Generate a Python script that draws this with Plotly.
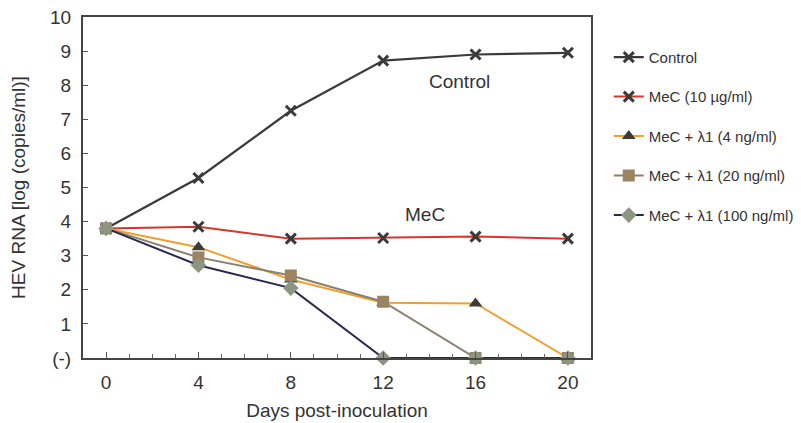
import plotly.graph_objects as go

days = [0, 4, 8, 12, 16, 20]
control = [3.8, 5.28, 7.25, 8.72, 8.9, 8.95]
mec = [3.8, 3.85, 3.5, 3.52, 3.56, 3.5]
mec_l4 = [3.8, 3.25, 2.3, 1.62, 1.6, 0.0]
mec_l20 = [3.8, 2.95, 2.42, 1.65, 0.0, 0.0]
mec_l100 = [3.8, 2.72, 2.05, 0.0, 0.0, 0.0]

y_ticks = [0, 1, 2, 3, 4, 5, 6, 7, 8, 9, 10]
y_labels = ["(-)", "1", "2", "3", "4", "5", "6", "7", "8", "9", "10"]
x_ticks = [0, 4, 8, 12, 16, 20]

series = [
    ("Control", control, "#3a3a3a", "#3a3a3a", "x-thin", 2.2),
    ("MeC (10 µg/ml)", mec, "#d8352a", "#3a3a3a", "x-thin", 2.0),
    ("MeC + λ1 (4 ng/ml)", mec_l4, "#f0a030", "#3d3d38", "triangle-up", 2.0),
    ("MeC + λ1 (20 ng/ml)", mec_l20, "#8a8070", "#9a8462", "square", 2.0),
    ("MeC + λ1 (100 ng/ml)", mec_l100, "#2a2850", "#8c9482", "diamond", 2.0),
]

fig = go.Figure()
for i, (name, vals, lc, mc, sym, lw) in enumerate(series):
    if sym == "x-thin":
        marker = dict(symbol=sym, size=10, line=dict(color=mc, width=3), color=mc)
    else:
        marker = dict(symbol=sym, size=12, color=mc, line=dict(width=0))
    fig.add_trace(go.Scatter(
        x=days, y=vals, name=name, mode="lines+markers",
        line=dict(color=lc, width=lw), marker=marker,
        legendgroup=str(i), cliponaxis=False,
    ))

fig.add_annotation(x=15.3, y=8.1, text="Control", showarrow=False,
                   font=dict(size=19, color="#333333", family="Liberation Sans, Arial"))
fig.add_annotation(x=13.8, y=4.2, text="MeC", showarrow=False,
                   font=dict(size=19, color="#333333", family="Liberation Sans, Arial"))

fig.update_layout(
    width=793, height=415,
    margin=dict(l=75, r=210, t=9, b=65, autoexpand=False),
    paper_bgcolor="#ffffff", plot_bgcolor="#ffffff",
    font=dict(family="Liberation Sans, Arial", color="#333333"),
    legend=dict(x=1.035, y=0.93, xanchor="left", yanchor="top",
                font=dict(size=15, color="#333333"),
                tracegroupgap=17, bgcolor="rgba(0,0,0,0)", itemwidth=30),
    xaxis=dict(range=[-1, 21], tickvals=x_ticks, ticks="inside", ticklen=6,
               tickcolor="#555", showline=True, linecolor="#444", linewidth=2,
               mirror=True, showgrid=False, zeroline=False, automargin=False,
               tickfont=dict(size=19, color="#333"), ticklabelstandoff=6,
               ticklabeloverflow="allow",
               minor=dict(dtick=1, ticks="inside", ticklen=4, tickcolor="#666"),
               title=dict(text="Days post-inoculation", font=dict(size=19, color="#333"), standoff=12)),
    yaxis=dict(range=[0, 10], tickvals=y_ticks, ticktext=y_labels, ticks="inside",
               ticklen=5, tickcolor="#555", showline=True, linecolor="#444",
               linewidth=2, mirror=True, showgrid=False, zeroline=False, automargin=False,
               tickfont=dict(size=19, color="#333"), ticklabelstandoff=6,
               ticklabeloverflow="allow",
               title=dict(text="HEV RNA [log (copies/ml)]", font=dict(size=19, color="#333"), standoff=21)),
)

fig.write_html("out.html")
